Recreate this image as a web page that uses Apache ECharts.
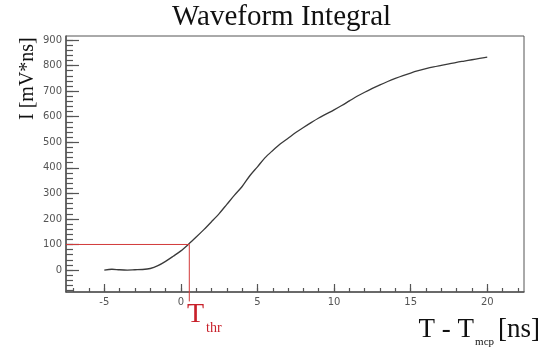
<!DOCTYPE html>
<html>
<head>
<meta charset="utf-8">
<script src="https://cdn.jsdelivr.net/npm/echarts@6/dist/echarts.min.js"></script>
<style>
  html, body { margin: 0; padding: 0; background: #fff; }
  #chart { width: 543px; height: 348px; }
</style>
</head>
<body>
<div id="chart"></div>
<script>
// waveform integral
const timeNs = [-5, -4.5, -4, -3.5, -3, -2.5, -2, -1.5, -1, -0.5, 0, 0.5, 1, 1.5, 2, 2.5, 3, 3.5, 4, 4.5,
  5, 5.5, 6, 6.5, 7, 7.5, 8, 8.5, 9, 9.5, 10, 10.5, 11, 11.5, 12, 12.5, 13, 13.5, 14, 14.5,
  15, 15.5, 16, 16.5, 17, 17.5, 18, 18.5, 19, 19.5, 20]
const integral = [0, 3, 1, 0, 1, 2, 6, 17, 34, 54, 75, 101, 129, 158, 189, 221, 257, 293, 327, 369,
  404, 440, 468, 494, 516, 538, 558, 577, 595, 611, 627, 644, 662, 680, 696, 711, 725, 738, 750, 761,
  771, 780, 788, 795, 801, 807, 813, 818, 823, 828, 833]

// threshold crossing
const thrTime = 0.55
const thrLevel = 100

// axis ranges and ticks
const xRange = [-7.5, 22.4]
const yRange = [-86, 916]
const xMajorTicks = [-5, 0, 5, 10, 15, 20]
const yMajorTicks = [0, 100, 200, 300, 400, 500, 600, 700, 800, 900]

const xMinorTicks = []
for (let v = -7; v <= 22; v++) xMinorTicks.push(v)
const yMinorTicks = []
for (let v = -80; v <= 900; v += 20) yMinorTicks.push(v)

const chart = echarts.init(document.getElementById('chart'))

const axisColor = '#555'
const labelStyle = { color: '#555', fontFamily: 'DejaVu Sans', fontSize: 10 }
const serif = 'Liberation Serif'

const option = {
  animation: false,
  title: {
    text: 'Waveform Integral',
    left: 172,
    top: 3,
    padding: 0,
    textStyle: { fontFamily: serif, fontSize: 29, fontWeight: 'normal', color: '#111' }
  },
  grid: {
    left: 66, right: 19, top: 36, bottom: 56,
    outerBoundsMode: 'none',
    containLabel: false,
    show: true, borderColor: axisColor, borderWidth: 1
  },
  xAxis: [
    {
      type: 'value',
      min: xRange[0], max: xRange[1],
      name: '{a|T - T}{s|mcp}{a|[ns]}',
      nameLocation: 'end',
      nameGap: 16,
      nameTextStyle: {
        align: 'right', verticalAlign: 'top', padding: [24, 0, 0, 0],
        rich: {
          a: { fontFamily: serif, fontSize: 27, lineHeight: 32, verticalAlign: 'top', color: '#111' },
          s: { fontFamily: serif, fontSize: 11, lineHeight: 12, verticalAlign: 'bottom', color: '#111', padding: [0, 4, 0, 1] }
        }
      },
      axisLine: { onZero: false, lineStyle: { color: axisColor, width: 1.5 } },
      axisTick: { inside: true, length: 8, customValues: xMajorTicks, lineStyle: { color: axisColor, width: 1.2 } },
      axisLabel: Object.assign({ customValues: xMajorTicks, margin: 5 }, labelStyle),
      splitLine: { show: false }
    },
    {
      type: 'value',
      min: xRange[0], max: xRange[1],
      position: 'bottom',
      axisLine: { show: false, onZero: false },
      axisTick: { inside: true, length: 4, customValues: xMinorTicks, lineStyle: { color: axisColor, width: 1.2 } },
      axisLabel: { show: false },
      splitLine: { show: false }
    }
  ],
  yAxis: [
    {
      type: 'value',
      min: yRange[0], max: yRange[1],
      name: 'I [mV*ns]',
      nameLocation: 'end',
      nameRotate: 90,
      nameGap: -84,
      nameTextStyle: {
        fontFamily: serif, fontSize: 20, color: '#111',
        align: 'left', verticalAlign: 'bottom', padding: [0, 0, 28, 0]
      },
      axisLine: { onZero: false, lineStyle: { color: axisColor, width: 1.5 } },
      axisTick: { inside: true, length: 13, customValues: yMajorTicks, lineStyle: { color: axisColor, width: 1.2 } },
      axisLabel: Object.assign({ customValues: yMajorTicks, margin: 4 }, labelStyle),
      splitLine: { show: false }
    },
    {
      type: 'value',
      min: yRange[0], max: yRange[1],
      position: 'left',
      axisLine: { show: false, onZero: false },
      axisTick: { inside: true, length: 7, customValues: yMinorTicks, lineStyle: { color: axisColor, width: 1.2 } },
      axisLabel: { show: false },
      splitLine: { show: false }
    }
  ],
  series: [
    {
      name: 'integral',
      type: 'line',
      data: timeNs.map((t, i) => [t, integral[i]]),
      symbol: 'none',
      smooth: 0.3,
      lineStyle: { color: '#3a3a3a', width: 1.3 }
    },
    {
      name: 'threshold',
      type: 'line',
      clip: false,
      data: [[xRange[0], thrLevel], [thrTime, thrLevel], [thrTime, -123]],
      symbol: 'none',
      lineStyle: { color: '#d23a3a', width: 1 }
    }
  ],
  graphic: [
    {
      type: 'text',
      left: 187, top: 301,
      style: {
        text: '{T|T}{s|thr}',
        rich: {
          T: { fontFamily: serif, fontSize: 28, lineHeight: 34, verticalAlign: 'top', fill: '#c8202a' },
          s: { fontFamily: serif, fontSize: 14, lineHeight: 14, verticalAlign: 'bottom', fill: '#c8202a', padding: [0, 0, 0, 2] }
        }
      }
    }
  ]
}

chart.setOption(option)
</script>
</body>
</html>
